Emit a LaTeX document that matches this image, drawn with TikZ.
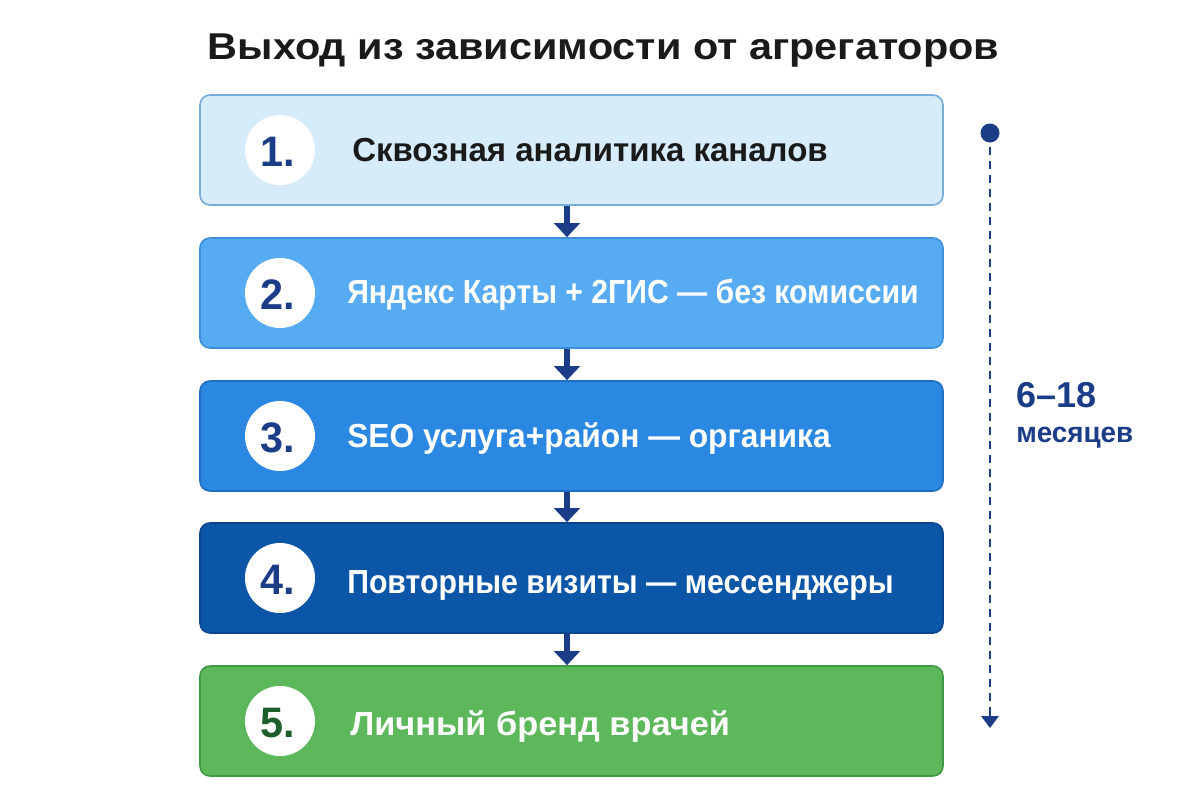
\documentclass[tikz,border=0pt]{standalone}
\usepackage{graphicx}
\usepackage{fontspec}
\setmainfont{Liberation Sans}
\usetikzlibrary{arrows.meta,calc}
\definecolor{navy}{HTML}{1B3C87}
\definecolor{c1fill}{HTML}{D6ECFB}
\definecolor{c1line}{HTML}{78ACDA}
\definecolor{c2fill}{HTML}{56ABF2}
\definecolor{c2line}{HTML}{3D8FDB}
\definecolor{c3fill}{HTML}{2A87E2}
\definecolor{c3line}{HTML}{1E6FC4}
\definecolor{c4fill}{HTML}{0C56A8}
\definecolor{c4line}{HTML}{0A4690}
\definecolor{c5fill}{HTML}{5CB85A}
\definecolor{c5line}{HTML}{3F9A45}
\definecolor{darkgreen}{HTML}{1D5E2A}
\definecolor{txtdark}{HTML}{1A1A1A}
\begin{document}
\begin{tikzpicture}[x=0.75pt,y=-0.75pt,
  stagebox/.style={rounded corners=10*0.75pt, line width=1.2pt, minimum width=743*0.75pt, minimum height=110*0.75pt, inner sep=0pt},
  numcirc/.style={circle, fill=white, minimum size=70*0.75pt, inner sep=0pt},
  numtext/.style={anchor=base, inner sep=0pt, font=\bfseries\fontsize{32}{34}\selectfont},
  stagetext/.style={anchor=base west, inner sep=0pt, font=\bfseries\fontsize{25}{28}\selectfont},
  flow/.style={navy, line width=4.8pt, -{Triangle[width=19pt,length=10.5pt]}, shorten >=0pt},
  tline/.style={navy, line width=2.1pt, dash pattern=on 6pt off 4.5pt}
]
\useasboundingbox (0,0) rectangle (1200,800);
\fill[white] (0,0) rectangle (1200,800);

\node[anchor=base, inner sep=0pt, font=\bfseries\fontsize{28}{30}\selectfont, text=txtdark] (title) at (603.5,59) {\scalebox{1.11}[1]{Выход из зависимости от агрегаторов}};

% boxes
\node[stagebox, fill=c1fill, draw=c1line] (b1) at (571.5,150) {};
\node[stagebox, fill=c2fill, draw=c2line] (b2) at (571.5,293) {};
\node[stagebox, fill=c3fill, draw=c3line] (b3) at (571.5,436) {};
\node[stagebox, fill=c4fill, draw=c4line] (b4) at (571.5,578) {};
\node[stagebox, fill=c5fill, draw=c5line] (b5) at (571.5,721) {};

% number circles
\node[numcirc] (c1) at (280,150) {};
\node[numcirc] (c2) at (280,293) {};
\node[numcirc] (c3) at (280,436) {};
\node[numcirc] (c4) at (280,578) {};
\node[numcirc] (c5) at (280,721) {};
\node[numtext, text=navy] (n1) at (278,166) {\scalebox{0.97}[1]{1.}};
\node[numtext, text=navy] (n2) at (278,309) {\scalebox{0.97}[1]{2.}};
\node[numtext, text=navy] (n3) at (278,452) {\scalebox{0.97}[1]{3.}};
\node[numtext, text=navy] (n4) at (278,594) {\scalebox{0.97}[1]{4.}};
\node[numtext, text=darkgreen] (n5) at (278,737) {\scalebox{0.97}[1]{5.}};

% texts
\node[stagetext, text=txtdark] (t1) at (352,161) {\scalebox{0.99}[1]{Сквозная аналитика каналов}};
\node[stagetext, text=white] (t2) at (347,303) {\scalebox{0.905}[1]{Яндекс Карты + 2ГИС — без комиссии}};
\node[stagetext, text=white] (t3) at (347,447) {\scalebox{0.952}[1]{SEO услуга+район — органика}};
\node[stagetext, text=white] (t4) at (347,593) {\scalebox{0.907}[1]{Повторные визиты — мессенджеры}};
\node[stagetext, text=white] (t5) at (350,735) {\scalebox{1.03}[1]{Личный бренд врачей}};

% connectors
\coordinate (ax) at (567,0);
\draw[flow] (b1.south -| ax) -- (b2.north -| ax);
\draw[flow] (b2.south -| ax) -- (b3.north -| ax);
\draw[flow] (b3.south -| ax) -- (b4.north -| ax);
\draw[flow] (b4.south -| ax) -- (b5.north -| ax);

% timeline
\coordinate (tltop) at (990,133);
\coordinate (tlend) at (990,728);
\draw[tline] (tltop) -- ($(tlend)+(0,-12)$);
\draw[navy, -{Triangle[width=13pt,length=9pt]}, line width=2.1pt] ($(tlend)+(0,-13)$) -- (tlend);
\fill[navy] (tltop) circle (9.5*0.75pt);
\node[anchor=base west, inner sep=0pt, text=navy, font=\bfseries\fontsize{27}{30}\selectfont] (dur) at (1016,407) {6–18};
\node[anchor=base west, inner sep=0pt, text=navy, font=\bfseries\fontsize{21.5}{24}\selectfont] (unit) at (1016,442) {\scalebox{0.97}[1]{месяцев}};
\end{tikzpicture}
\end{document}
